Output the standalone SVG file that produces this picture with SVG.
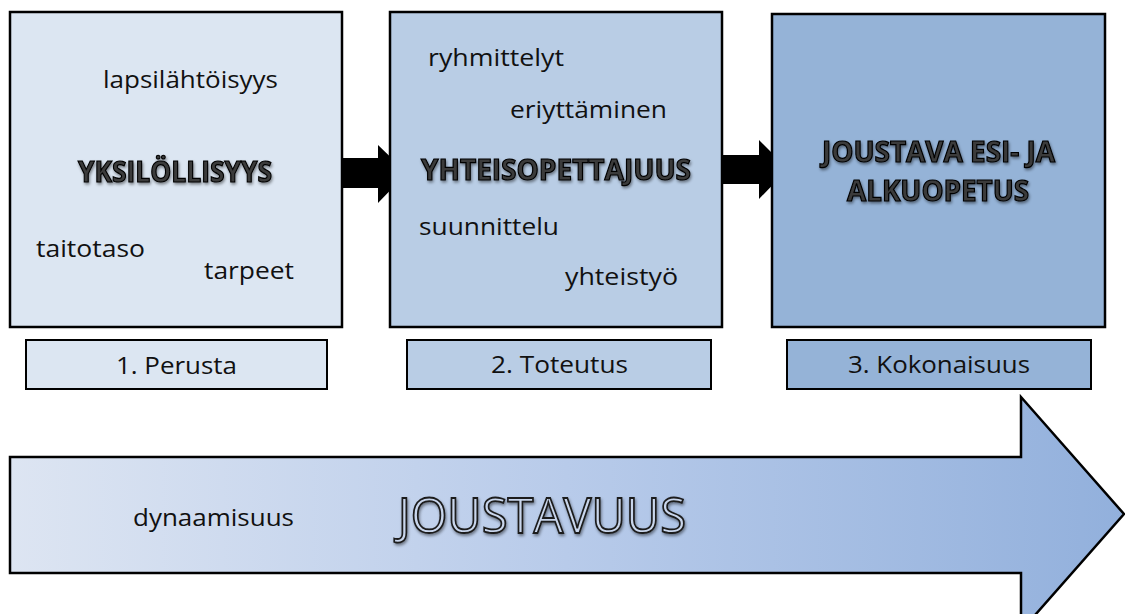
<svg xmlns="http://www.w3.org/2000/svg" width="1125" height="614" viewBox="0 0 1125 614">
<style>
.box{stroke:#000;stroke-width:2.5}
.lbl{stroke:#000;stroke-width:2}
.t{font-family:"Open Sans","Liberation Sans",sans-serif;font-size:23px;fill:#111}
.h{font-family:"Open Sans","Liberation Sans",sans-serif;font-size:29px;font-weight:bold;fill:#3a3a3a;stroke:#000;stroke-width:1.2;filter:url(#sh)}
.big{font-family:"Open Sans","Liberation Sans",sans-serif;font-size:50px;fill:#c9d6ec;stroke:#1a1a1a;stroke-width:1.8;filter:url(#sh)}
.c1{fill:#dce6f2}.c2{fill:#b9cde5}.c3{fill:#95b3d7}
</style>
<defs>
<linearGradient id="g" x1="0" y1="0" x2="1" y2="0">
<stop offset="0" stop-color="#dde5f2"/>
<stop offset="0.5" stop-color="#b8cbea"/>
<stop offset="1" stop-color="#92b0dc"/>
</linearGradient>
<filter id="sh" x="-10%" y="-30%" width="120%" height="160%">
<feGaussianBlur in="SourceAlpha" stdDeviation="1.5"/>
<feOffset dx="1" dy="1.5" result="b"/>
<feFlood flood-color="#000" flood-opacity="0.45"/>
<feComposite in2="b" operator="in"/>
<feMerge><feMergeNode/><feMergeNode in="SourceGraphic"/></feMerge>
</filter>
</defs>
<g id="connectors">
<polygon points="342,158 378,158 378,145 407,173 378,203 378,188 342,188" fill="#000"/>
<polygon points="722,155 759,155 759,140 788,169 759,199 759,184 722,184" fill="#000"/>
</g>
<g id="node-perusta">
<rect class="box c1" x="10" y="12" width="332" height="315"/>
<text class="t" x="103" y="88" textLength="175" lengthAdjust="spacingAndGlyphs">lapsilähtöisyys</text>
<text class="h" x="78" y="182" textLength="194" lengthAdjust="spacingAndGlyphs">YKSILÖLLISYYS</text>
<text class="t" x="36" y="257" textLength="109" lengthAdjust="spacingAndGlyphs">taitotaso</text>
<text class="t" x="204" y="279" textLength="90" lengthAdjust="spacingAndGlyphs">tarpeet</text>
</g>
<g id="label-perusta">
<rect class="lbl c1" x="26" y="340" width="301" height="49"/>
<text class="t" x="116" y="374" textLength="121" lengthAdjust="spacingAndGlyphs">1. Perusta</text>
</g>
<g id="node-toteutus">
<rect class="box c2" x="390" y="12" width="332" height="315"/>
<text class="t" x="428" y="66" textLength="136" lengthAdjust="spacingAndGlyphs">ryhmittelyt</text>
<text class="t" x="510" y="118" textLength="157" lengthAdjust="spacingAndGlyphs">eriyttäminen</text>
<text class="h" x="421" y="180" textLength="270" lengthAdjust="spacingAndGlyphs">YHTEISOPETTAJUUS</text>
<text class="t" x="419" y="235" textLength="140" lengthAdjust="spacingAndGlyphs">suunnittelu</text>
<text class="t" x="565" y="285" textLength="113" lengthAdjust="spacingAndGlyphs">yhteistyö</text>
</g>
<g id="label-toteutus">
<rect class="lbl c2" x="407" y="340" width="304" height="49"/>
<text class="t" x="491" y="373" textLength="137" lengthAdjust="spacingAndGlyphs">2. Toteutus</text>
</g>
<g id="node-kokonaisuus">
<rect class="box c3" x="772" y="14" width="333" height="313"/>
<text class="h" x="822" y="162" textLength="233" lengthAdjust="spacingAndGlyphs">JOUSTAVA ESI- JA</text>
<text class="h" x="847" y="201" textLength="182" lengthAdjust="spacingAndGlyphs">ALKUOPETUS</text>
</g>
<g id="label-kokonaisuus">
<rect class="lbl c3" x="787" y="340" width="304" height="49"/>
<text class="t" x="848" y="373" textLength="182" lengthAdjust="spacingAndGlyphs">3. Kokonaisuus</text>
</g>
<g id="node-joustavuus">
<polygon points="10,457 1021,457 1021,397 1124,514 1021,631 1021,573 10,573" fill="url(#g)" stroke="#000" stroke-width="2.5"/>
<text class="t" x="133" y="526" textLength="161" lengthAdjust="spacingAndGlyphs">dynaamisuus</text>
<text class="big" x="398" y="533" textLength="288" lengthAdjust="spacingAndGlyphs">JOUSTAVUUS</text>
</g>
</svg>
